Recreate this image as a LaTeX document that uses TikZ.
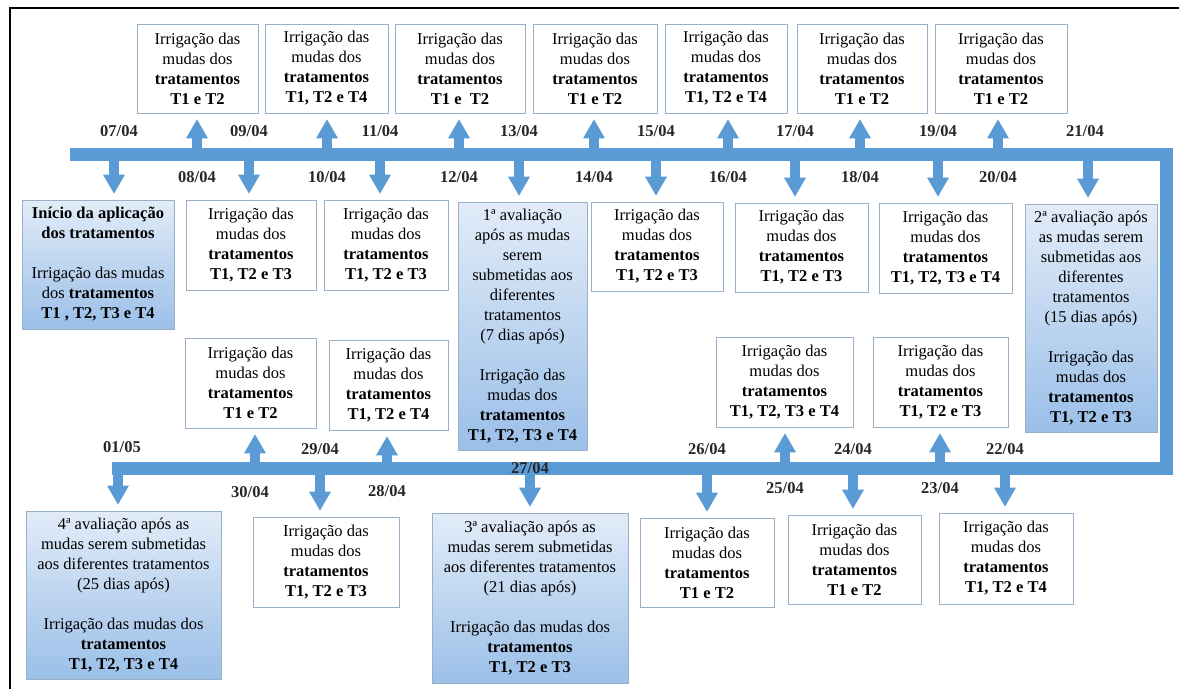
\documentclass[tikz,border=0pt]{standalone}
\usepackage{fontspec}
\setmainfont{Liberation Serif}
\usetikzlibrary{arrows.meta}
\definecolor{barblue}{HTML}{5B9BD5}
\definecolor{boxline}{HTML}{9AB0C8}
\definecolor{gradtop}{HTML}{E2ECF8}
\definecolor{gradbot}{HTML}{9BBFE8}
\newcommand{\irrig}[1]{Irrigação das\\ mudas dos\\ \textbf{tratamentos}\\ \textbf{#1}}

\begin{document}
\begin{tikzpicture}[x=1pt, y=-1pt, font=\fontsize{16.5}{20}\selectfont,
    box/.style={draw=boxline, fill=white, line width=0.8pt, align=center, inner sep=1pt},
    evalbox/.style={box, top color=gradtop, bottom color=gradbot},
    arr/.style={draw=barblue, line width=10pt, -{Triangle[width=22pt, length=19pt, line width=0pt]}, shorten >=6pt},
    datelbl/.style={font=\fontsize{16.5}{20}\selectfont\bfseries, text=black!85, inner sep=0pt},
    bar/.style={draw=barblue, line width=13pt, line join=miter}]
\useasboundingbox (0,0) rectangle (1179,689);
\draw[line width=1.6pt] (10,689) -- (10,8) -- (1179,8);

% timeline
\draw[bar] (70,154) -- (1166.5,154) -- (1166.5,468) -- (112,468);

% points on the timeline
\coordinate (a0704) at (114,154);
\coordinate (a0804) at (197,154);
\coordinate (a0904) at (249,154);
\coordinate (a1004) at (327,154);
\coordinate (a1104) at (380,154);
\coordinate (a1204) at (459,154);
\coordinate (a1304) at (519,154);
\coordinate (a1404) at (594,154);
\coordinate (a1504) at (656,154);
\coordinate (a1604) at (728,154);
\coordinate (a1704) at (795,154);
\coordinate (a1804) at (860,154);
\coordinate (a1904) at (938,154);
\coordinate (a2004) at (998,154);
\coordinate (a2104) at (1088,154);
\coordinate (a2204) at (1005,468);
\coordinate (a2304) at (940,468);
\coordinate (a2404) at (853,468);
\coordinate (a2504) at (785,468);
\coordinate (a2604) at (707,468);
\coordinate (a2704) at (530,468);
\coordinate (a2804) at (387,468);
\coordinate (a2904) at (320,468);
\coordinate (a3004) at (255,468);
\coordinate (a0105) at (118,468);

% boxes above the first line
\node[box, minimum width=121pt, minimum height=89pt] (t0804) at (197.5,68.5) {\irrig{T1 e T2}};
\node[box, minimum width=123pt, minimum height=89pt] (t1004) at (326.5,68.5) {\irrig{T1, T2 e T4}};
\node[box, minimum width=130pt, minimum height=89pt] (t1204) at (460,68.5) {\irrig{T1 e~ T2}};
\node[box, minimum width=124pt, minimum height=89pt] (t1404) at (595,68.5) {\irrig{T1 e T2}};
\node[box, minimum width=122pt, minimum height=89pt] (t1604) at (726,68.5) {\irrig{T1, T2 e T4}};
\node[box, minimum width=130pt, minimum height=89pt] (t1804) at (862,68.5) {\irrig{T1 e T2}};
\node[box, minimum width=132pt, minimum height=89pt] (t2004) at (1001,68.5) {\irrig{T1 e T2}};

% boxes below the first line
\node[evalbox, minimum width=152pt, minimum height=129pt] (b0704) at (98,264.5)
  {\textbf{Início da aplicação}\\ \textbf{dos tratamentos}\\[20pt] Irrigação das mudas\\ dos \textbf{tratamentos}\\ \textbf{T1 , T2, T3 e T4}};
\node[box, minimum width=130pt, minimum height=90pt] (b0904) at (251,245) {\irrig{T1, T2 e T3}};
\node[box, minimum width=124pt, minimum height=90pt] (b1104) at (386,245) {\irrig{T1, T2 e T3}};
\node[evalbox, minimum width=129pt, minimum height=248pt] (b1304) at (522.5,326)
  {1ª avaliação\\ após as mudas\\ serem\\ submetidas aos\\ diferentes\\ tratamentos\\ (7 dias após)\\[20pt] \irrig{T1, T2, T3 e T4}};
\node[box, minimum width=132pt, minimum height=89pt] (b1504) at (657,246.5) {\irrig{T1, T2 e T3}};
\node[box, minimum width=133pt, minimum height=89pt] (b1704) at (801.5,247.5) {\irrig{T1, T2 e T3}};
\node[box, minimum width=133pt, minimum height=90pt] (b1904) at (945.5,248) {\irrig{T1, T2, T3 e T4}};
\node[evalbox, minimum width=132pt, minimum height=228pt] (b2104) at (1091,318)
  {2ª avaliação após\\ as mudas serem\\ submetidas aos\\ diferentes\\ tratamentos\\ (15 dias após)\\[20pt] \irrig{T1, T2 e T3}};

% boxes above the second line
\node[box, minimum width=131pt, minimum height=90pt] (t3004) at (250.5,383) {\irrig{T1 e T2}};
\node[box, minimum width=119pt, minimum height=90pt] (t2804) at (388.5,385) {\irrig{T1, T2 e T4}};
\node[box, minimum width=137pt, minimum height=90pt] (t2504) at (784.5,382) {\irrig{T1, T2, T3 e T4}};
\node[box, minimum width=135pt, minimum height=90pt] (t2304) at (940.5,382) {\irrig{T1, T2 e T3}};

% boxes below the second line
\node[evalbox, minimum width=195pt, minimum height=168pt] (b0105) at (123.5,595)
  {4ª avaliação após as\\ mudas serem submetidas\\ aos diferentes tratamentos\\ (25 dias após)\\[20pt] Irrigação das mudas dos\\ \textbf{tratamentos}\\ \textbf{T1, T2, T3 e T4}};
\node[box, minimum width=146pt, minimum height=90pt] (b2904) at (326,562) {\irrig{T1, T2 e T3}};
\node[evalbox, minimum width=196pt, minimum height=170pt] (b2704) at (530,598)
  {3ª avaliação após as\\ mudas serem submetidas\\ aos diferentes tratamentos\\ (21 dias após)\\[20pt] Irrigação das mudas dos\\ \textbf{tratamentos}\\ \textbf{T1, T2 e T3}};
\node[box, minimum width=134pt, minimum height=89pt] (b2604) at (707,562.5) {\irrig{T1 e T2}};
\node[box, minimum width=133pt, minimum height=89pt] (b2404) at (854.5,559.5) {\irrig{T1 e T2}};
\node[box, minimum width=134pt, minimum height=91pt] (b2204) at (1006,558.5) {\irrig{T1, T2 e T4}};

% arrows
\draw[arr] (a0704) -- (a0704 |- b0704.north);
\draw[arr] (a0804) -- (a0804 |- t0804.south);
\draw[arr] (a0904) -- (a0904 |- b0904.north);
\draw[arr] (a1004) -- (a1004 |- t1004.south);
\draw[arr] (a1104) -- (a1104 |- b1104.north);
\draw[arr] (a1204) -- (a1204 |- t1204.south);
\draw[arr] (a1304) -- (a1304 |- b1304.north);
\draw[arr] (a1404) -- (a1404 |- t1404.south);
\draw[arr] (a1504) -- (a1504 |- b1504.north);
\draw[arr] (a1604) -- (a1604 |- t1604.south);
\draw[arr] (a1704) -- (a1704 |- b1704.north);
\draw[arr] (a1804) -- (a1804 |- t1804.south);
\draw[arr] (a1904) -- (a1904 |- b1904.north);
\draw[arr] (a2004) -- (a2004 |- t2004.south);
\draw[arr] (a2104) -- (a2104 |- b2104.north);
\draw[arr] (a2204) -- (a2204 |- b2204.north);
\draw[arr] (a2304) -- (a2304 |- t2304.south);
\draw[arr] (a2404) -- (a2404 |- b2404.north);
\draw[arr] (a2504) -- (a2504 |- t2504.south);
\draw[arr] (a2604) -- (a2604 |- b2604.north);
\draw[arr] (a2704) -- (a2704 |- b2704.north);
\draw[arr] (a2804) -- (a2804 |- t2804.south);
\draw[arr] (a2904) -- (a2904 |- b2904.north);
\draw[arr] (a3004) -- (a3004 |- t3004.south);
\draw[arr] (a0105) -- (a0105 |- b0105.north);

% dates
\node[datelbl] (l0704) at ([xshift=5pt, yshift=23pt]a0704) {07/04};
\node[datelbl] (l0804) at ([yshift=-23pt]a0804) {08/04};
\node[datelbl] (l0904) at ([yshift=23pt]a0904) {09/04};
\node[datelbl] (l1004) at ([yshift=-23pt]a1004) {10/04};
\node[datelbl] (l1104) at ([yshift=23pt]a1104) {11/04};
\node[datelbl] (l1204) at ([yshift=-23pt]a1204) {12/04};
\node[datelbl] (l1304) at ([yshift=23pt]a1304) {13/04};
\node[datelbl] (l1404) at ([yshift=-23pt]a1404) {14/04};
\node[datelbl] (l1504) at ([yshift=23pt]a1504) {15/04};
\node[datelbl] (l1604) at ([yshift=-23pt]a1604) {16/04};
\node[datelbl] (l1704) at ([yshift=23pt]a1704) {17/04};
\node[datelbl] (l1804) at ([yshift=-23pt]a1804) {18/04};
\node[datelbl] (l1904) at ([yshift=23pt]a1904) {19/04};
\node[datelbl] (l2004) at ([yshift=-23pt]a2004) {20/04};
\node[datelbl] (l2104) at ([xshift=-3pt, yshift=23pt]a2104) {21/04};
\node[datelbl] (l2204) at ([yshift=19pt]a2204) {22/04};
\node[datelbl] (l2304) at ([yshift=-20pt]a2304) {23/04};
\node[datelbl] (l2404) at ([yshift=19pt]a2404) {24/04};
\node[datelbl] (l2504) at ([yshift=-20pt]a2504) {25/04};
\node[datelbl] (l2604) at ([yshift=19pt]a2604) {26/04};
\node[datelbl] (l2704) at (a2704) {27/04};
\node[datelbl] (l2804) at ([yshift=-23pt]a2804) {28/04};
\node[datelbl] (l2904) at ([yshift=19pt]a2904) {29/04};
\node[datelbl] (l3004) at ([xshift=-5pt, yshift=-24pt]a3004) {30/04};
\node[datelbl] (l0105) at ([xshift=4pt, yshift=21pt]a0105) {01/05};
\end{tikzpicture}
\end{document}
